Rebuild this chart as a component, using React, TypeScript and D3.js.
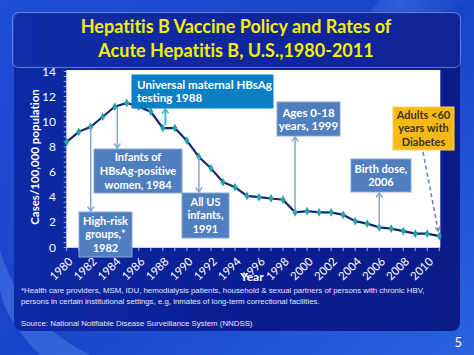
import React from "react";
import * as d3 from "d3";

const years = [1980,1981,1982,1983,1984,1985,1986,1987,1988,1989,1990,1991,1992,1993,1994,1995,1996,1997,1998,1999,2000,2001,2002,2003,2004,2005,2006,2007,2008,2009,2010,2011];
const rates = [8.4,9.2,9.6,10.4,11.2,11.5,11.2,10.8,9.5,9.5,8.5,7.2,6.3,5.2,4.8,4.1,4.0,3.9,3.8,2.8,2.9,2.8,2.8,2.6,2.1,1.9,1.6,1.5,1.3,1.1,1.1,0.9];
const yTicks = [0,2,4,6,8,10,12,14];
const xLabels = [1980,1982,1984,1986,1988,1990,1992,1994,1996,1998,2000,2002,2004,2006,2008,2010];

const titleLines = ["Hepatitis B Vaccine Policy and Rates of", "Acute Hepatitis B, U.S.,1980-2011"];
const footLines = [
  "*Health care providers, MSM, IDU, hemodialysis patients, household & sexual partners of persons with chronic HBV,",
  "persons in certain institutional settings, e.g, inmates of long-term correctional facilities.",
];
const sourceText = "Source: National Notifiable Disease Surveillance System (NNDSS)";

type Ann = { lines: string[]; year: number; box: [number, number, number, number]; dir: "up" | "down"; kind: "blue" | "teal" | "gold"; align?: "left"; fs?: number };
const annotations: Ann[] = [
  { lines: ["Universal maternal HBsAg", "testing 1988"], year: 1988, box: [132, 75, 141, 33], dir: "up", kind: "teal", align: "left", fs: 11.6 },
  { lines: ["Infants of", "HBsAg-positive", "women, 1984"], year: 1984, box: [94, 149, 88, 44], dir: "down", kind: "blue" },
  { lines: ["High-risk", "groups,*", "1982"], year: 1982, box: [79, 212, 53, 45], dir: "down", kind: "blue" },
  { lines: ["All US", "infants,", "1991"], year: 1991, box: [182, 193, 47, 45], dir: "down", kind: "blue" },
  { lines: ["Ages 0-18", "years, 1999"], year: 1999, box: [277, 102, 63, 34], dir: "up", kind: "blue", fs: 11.5 },
  { lines: ["Birth dose,", "2006"], year: 2006, box: [351, 159, 60, 33], dir: "up", kind: "blue" },
  { lines: ["Adults <60", "years  with", "Diabetes"], year: 2011, box: [393, 107, 61, 43], dir: "down", kind: "gold" },
];

const FONT = "Lato, 'Open Sans', sans-serif";
const noLig: React.CSSProperties = { fontVariantLigatures: "none", fontFeatureSettings: "'liga' 0, 'clig' 0" };

export default function App() {
  const W = 474, H = 355;
  const x = d3.scaleLinear().domain([1980, 2011]).range([66.7, 439.3]);
  const y = d3.scaleLinear().domain([0, 14]).range([247.5, 71.5]);
  const line = d3.line<number>().x((_, i) => x(years[i])).y((d) => y(d));
  const diamond = d3.symbol().type(d3.symbolDiamond).size(22)() as string;
  const minor = d3.range(0, 14.001, 0.4);

  const arrowHead = (px: number, py: number, dir: "up" | "down", color: string) => {
    const s = dir === "down" ? -1 : 1;
    return <path d={`M${px - 3.2},${py + s * 4.5} L${px},${py} L${px + 3.2},${py + s * 4.5}`} fill="none" stroke={color} strokeWidth={1.4} />;
  };

  return (
    <svg width={W} height={H} style={{ position: "absolute", left: 0, top: 0, ...noLig }}>
      <defs>
        <linearGradient id="bg" x1="0" y1="0" x2="1" y2="1">
          <stop offset="0" stopColor="#1f4fd6" />
          <stop offset="0.5" stopColor="#1a44c8" />
          <stop offset="1" stopColor="#2a62e0" />
        </linearGradient>
        <linearGradient id="panel" x1="0" y1="0" x2="1" y2="0">
          <stop offset="0" stopColor="#0d2aa4" />
          <stop offset="0.5" stopColor="#0a1d92" />
          <stop offset="1" stopColor="#0b1c8a" />
        </linearGradient>
        <linearGradient id="swoosh" x1="0" y1="0" x2="1" y2="0">
          <stop offset="0" stopColor="#4f86f0" stopOpacity="0" />
          <stop offset="0.5" stopColor="#5f95f5" stopOpacity="0.5" />
          <stop offset="1" stopColor="#4f86f0" stopOpacity="0" />
        </linearGradient>
      </defs>
      <rect x={0} y={0} width={W} height={H} fill="url(#bg)" />
      <path d="M380,0 L470,0 L330,60 Z" fill="url(#swoosh)" opacity={0.6} />
      <path d="M0,250 Q20,320 90,355 L40,355 Q5,320 0,290 Z" fill="#4a7ee8" opacity={0.5} />
      <rect x={14} y={13} width={446} height={318} rx={8} fill="url(#panel)" />
      <rect x={12.5} y={12.5} width={448} height={55} rx={6} fill="#1a36b0" fillOpacity={0.35} stroke="#8a9ad0" strokeOpacity={0.7} strokeWidth={1} />

      {titleLines.map((t, i) => (
        <text key={t} x={236} y={33 + i * 23.5} textAnchor="middle" fill="#f4f000" fontFamily={FONT} fontWeight={700} fontSize={18} style={noLig}>{t}</text>
      ))}

      {/* plot area */}
      <rect x={x(1980)} y={70} width={x(2011) - x(1980) + 1} height={y(0) - 70} fill="#ffffff" />
      <line x1={x(1980)} x2={x(1980)} y1={70} y2={y(0)} stroke="#c8d0e8" strokeWidth={1} />
      {minor.map((v) => (
        <line key={"m" + v} x1={x(1980) - 3} x2={x(1980)} y1={y(v)} y2={y(v)} stroke="#c8d0e8" strokeWidth={0.8} />
      ))}
      {yTicks.map((v) => (
        <text key={"y" + v} x={56} y={y(v) + 4} textAnchor="end" fill="#ffffff" fontFamily={FONT} fontSize={12}>{v}</text>
      ))}
      <line x1={x(1980)} x2={x(2011)} y1={y(0)} y2={y(0)} stroke="#c8d0e8" strokeWidth={1} />
      {years.map((yr) => (
        <line key={"t" + yr} x1={x(yr)} x2={x(yr)} y1={y(0)} y2={y(0) + 3.5} stroke="#c8d0e8" strokeWidth={0.8} />
      ))}
      {xLabels.map((yr) => (
        <text key={"x" + yr} transform={`translate(${x(yr) + 1},${y(0) + 9}) rotate(-45)`} textAnchor="end" dy="0.7em" fill="#ffffff" fontFamily={FONT} fontSize={11.5}>{yr}</text>
      ))}
      <text x={252} y={281} textAnchor="middle" fill="#ffffff" fontFamily={FONT} fontWeight={700} fontSize={12}>Year</text>
      <text transform={`translate(39,157) rotate(-90)`} textAnchor="middle" fill="#ffffff" fontFamily={FONT} fontWeight={700} fontSize={11.5}>Cases/100,000 population</text>

      {/* line */}
      <path d={line(rates) as string} fill="none" stroke="#14286e" strokeWidth={2.2} />
      {rates.map((v, i) => (
        <path key={"p" + i} d={diamond} transform={`translate(${x(years[i])},${y(v)})`} fill="#1fa5ad" />
      ))}

      {/* annotations */}
      {annotations.map((a) => {
        const [bx, by, bw, bh] = a.box;
        const fill = a.kind === "teal" ? "#0b7fc6" : a.kind === "gold" ? "#f7b916" : "#4f7fbf";
        const stroke = a.kind === "teal" ? "#0b7fc6" : a.kind === "gold" ? "#f9d25a" : "#8aa6d6";
        const tc = a.kind === "gold" ? "#3a3320" : "#ffffff";
        const arrowColor = a.kind === "teal" ? "#2cc0c8" : "#8aa3d0";
        const i = years.indexOf(a.year);
        const px = x(a.year), py = y(rates[i]);
        let arrow: React.ReactNode = null;
        if (a.kind === "gold") {
          const sx = 423, sy = by + bh + 2;
          const ex = px - 1, ey = py - 5;
          const ang = Math.atan2(ey - sy, ex - sx);
          const hx1 = ex - 5 * Math.cos(ang - 0.5), hy1 = ey - 5 * Math.sin(ang - 0.5);
          const hx2 = ex - 5 * Math.cos(ang + 0.5), hy2 = ey - 5 * Math.sin(ang + 0.5);
          arrow = (
            <g>
              <line x1={sx} y1={sy} x2={ex} y2={ey} stroke="#6f84b8" strokeWidth={1.6} strokeDasharray="4,3" />
              <path d={`M${hx1},${hy1} L${ex},${ey} L${hx2},${hy2}`} fill="none" stroke="#6f84b8" strokeWidth={1.4} />
            </g>
          );
        } else if (a.dir === "down") {
          const ax = a.year === 1984 ? px + 2.5 : px;
          arrow = (
            <g>
              <line x1={ax} y1={py} x2={ax} y2={by - 1} stroke={arrowColor} strokeWidth={1.5} />
              {arrowHead(ax, by - 1, "down", arrowColor)}
            </g>
          );
        } else {
          const ax = a.kind === "teal" ? px + 2.5 : px;
          const sy = a.kind === "teal" ? py - 3 : py;
          arrow = (
            <g>
              <line x1={ax} y1={sy} x2={ax} y2={by + bh + 1} stroke={arrowColor} strokeWidth={a.kind === "teal" ? 2 : 1.5} />
              {arrowHead(ax, by + bh + 1, "up", arrowColor)}
            </g>
          );
        }
        const fs = a.fs ?? 11;
        const lh = a.lines.length === 3 ? 13.8 : 13;
        const cy = by + bh / 2;
        return (
          <g key={a.lines.join(" ")}>
            {arrow}
            <rect x={bx} y={by} width={bw} height={bh} fill={fill} stroke={stroke} strokeWidth={1} />
            {a.lines.map((t, k) => (
              <text key={k} x={a.align === "left" ? bx + 5 : bx + bw / 2} y={cy + (k - (a.lines.length - 1) / 2) * lh + fs * 0.36}
                textAnchor={a.align === "left" ? "start" : "middle"} fill={tc} fontFamily={FONT} fontWeight={700} fontSize={fs}>{t}</text>
            ))}
          </g>
        );
      })}

      {footLines.map((t, i) => (
        <text key={i} x={21} y={293 + i * 11} fill="#e4e8f6" fontFamily="'Liberation Sans', Arial, sans-serif" fontSize={7.85}>{t}</text>
      ))}
      <text x={21} y={326} fill="#e4e8f6" fontFamily="'Liberation Sans', Arial, sans-serif" fontSize={7.85}>{sourceText}</text>
      <text x={462} y={347} textAnchor="end" fill="#ffffff" fontFamily={FONT} fontSize={13}>5</text>
    </svg>
  );
}
